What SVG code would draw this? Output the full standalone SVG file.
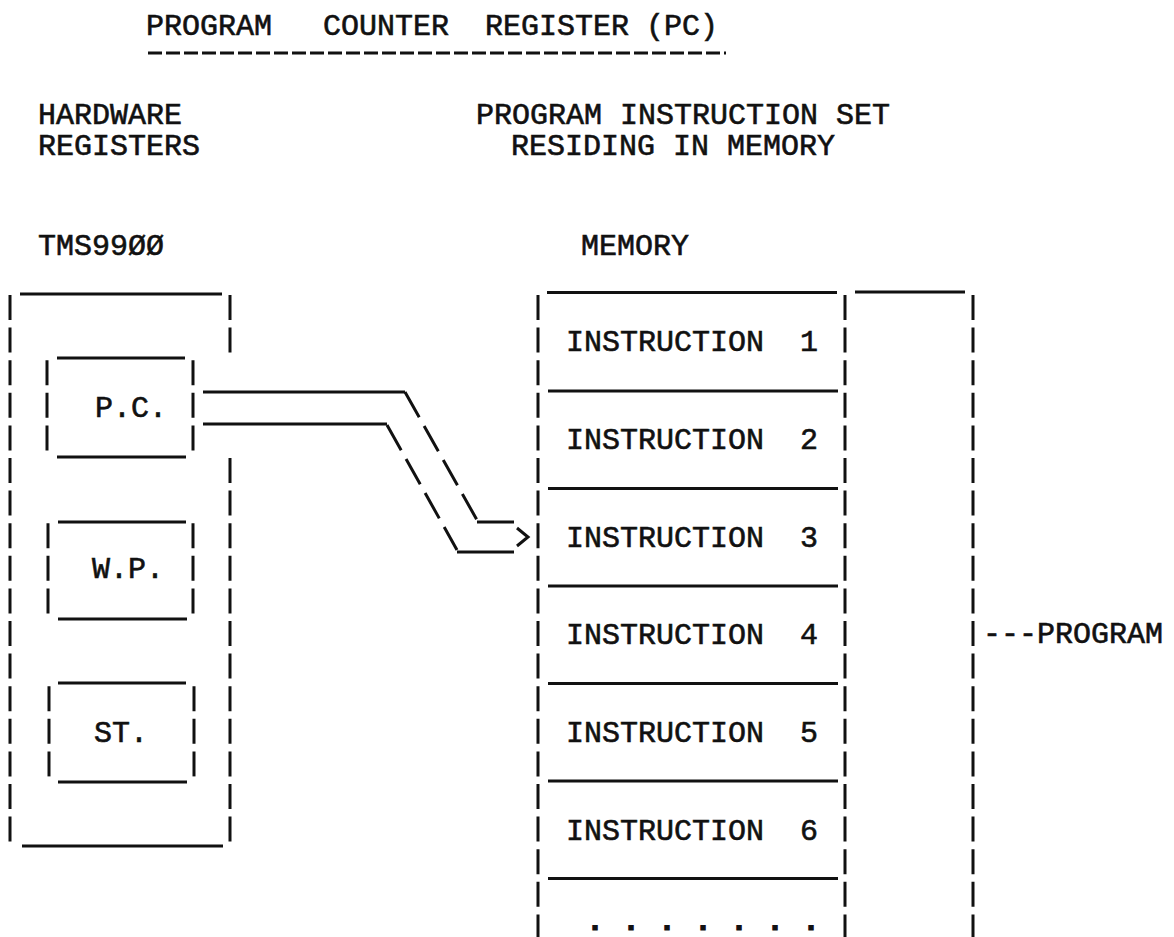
<svg xmlns="http://www.w3.org/2000/svg" width="1174" height="937" viewBox="0 0 1174 937">
<style>
text{font-family:"Liberation Mono","DejaVu Sans Mono",monospace;font-size:30px;fill:#111;stroke:#111;stroke-width:0.6}
.dots{font-weight:bold;stroke-width:1.2}
.h{stroke:#111;stroke-width:3;fill:none}
.v{stroke:#111;stroke-width:3;fill:none;stroke-dasharray:25 7.6}
.d{stroke:#111;stroke-width:3;fill:none;stroke-dasharray:29 10}
.u{stroke:#111;stroke-width:3.2;fill:none;stroke-dasharray:14 4}
</style>
<rect width="1174" height="937" fill="#fff"/>
<g id="title">
<text y="35"><tspan x="146">PROGRAM</tspan><tspan x="323">COUNTER</tspan><tspan x="485">REGISTER</tspan><tspan x="646">(PC)</tspan></text>
<line class="u" x1="148" y1="53" x2="726" y2="53"/>
</g>
<g id="headings">
<text x="38" y="124">HARDWARE</text>
<text x="38" y="155">REGISTERS</text>
<text x="476" y="124">PROGRAM INSTRUCTION SET</text>
<text x="511" y="155">RESIDING IN MEMORY</text>
<text x="38" y="255">TMS99ØØ</text>
<text x="581" y="255">MEMORY</text>
</g>
<g id="cpu">
<line class="h" x1="20" y1="294" x2="222" y2="294"/>
<line class="h" x1="22" y1="846" x2="223" y2="846"/>
<line class="v" x1="10" y1="295" x2="10" y2="841.6"/>
<line class="v" x1="230" y1="295" x2="230" y2="352.6"/>
<line class="v" x1="230" y1="458" x2="230" y2="841.6"/>
</g>
<g id="pc">
<line class="h" x1="57" y1="358" x2="185" y2="358"/>
<line class="h" x1="57" y1="457" x2="186" y2="457"/>
<line class="v" x1="47" y1="360.2" x2="47" y2="450.4"/>
<line class="v" x1="193" y1="360.2" x2="193" y2="450.4"/>
<text x="95" y="417">P.C.</text>
</g>
<g id="wp">
<line class="h" x1="58" y1="522" x2="186" y2="522"/>
<line class="h" x1="58" y1="619" x2="187" y2="619"/>
<line class="v" x1="48" y1="523.2" x2="48" y2="613.4"/>
<line class="v" x1="193" y1="523.2" x2="193" y2="613.4"/>
<text x="92" y="578">W.P.</text>
</g>
<g id="st">
<line class="h" x1="58" y1="683" x2="186" y2="683"/>
<line class="h" x1="58" y1="782" x2="187" y2="782"/>
<line class="v" x1="49" y1="686.2" x2="49" y2="776.4"/>
<line class="v" x1="194" y1="686.2" x2="194" y2="776.4"/>
<text x="94" y="742">ST.</text>
</g>
<g id="memory">
<line class="v" x1="538" y1="295" x2="538" y2="937"/>
<line class="v" x1="845" y1="295" x2="845" y2="937"/>
<line class="h" x1="547" y1="292.5" x2="837" y2="292.5"/>
<line class="h" x1="548" y1="391" x2="838" y2="391"/>
<line class="h" x1="548" y1="488.5" x2="838" y2="488.5"/>
<line class="h" x1="548" y1="586" x2="838" y2="586"/>
<line class="h" x1="548" y1="683.5" x2="838" y2="683.5"/>
<line class="h" x1="548" y1="781" x2="838" y2="781"/>
<line class="h" x1="548" y1="878.5" x2="838" y2="878.5"/>
<text x="566" y="351" xml:space="preserve">INSTRUCTION  1</text>
<text x="566" y="448.8" xml:space="preserve">INSTRUCTION  2</text>
<text x="566" y="546.6" xml:space="preserve">INSTRUCTION  3</text>
<text x="566" y="644.4" xml:space="preserve">INSTRUCTION  4</text>
<text x="566" y="742.2" xml:space="preserve">INSTRUCTION  5</text>
<text x="566" y="840" xml:space="preserve">INSTRUCTION  6</text>
<text class="dots" x="586" y="930" xml:space="preserve">. . . . . . .</text>
</g>
<g id="program">
<line class="h" x1="855" y1="292" x2="965" y2="292"/>
<line class="v" x1="973" y1="295" x2="973" y2="937"/>
<text x="983" y="643">---PROGRAM</text>
</g>
<g id="connectors">
<line class="h" x1="203" y1="392" x2="405" y2="392"/>
<line class="d" x1="405" y1="392" x2="477" y2="520"/>
<line class="h" x1="477" y1="522" x2="514" y2="522"/>
<line class="h" x1="203" y1="424" x2="387" y2="424"/>
<line class="d" x1="387" y1="425" x2="457" y2="550"/>
<line class="h" x1="457" y1="552" x2="514" y2="552"/>
<polyline class="h" points="517,528 528,537 517,546"/>
</g>
</svg>
